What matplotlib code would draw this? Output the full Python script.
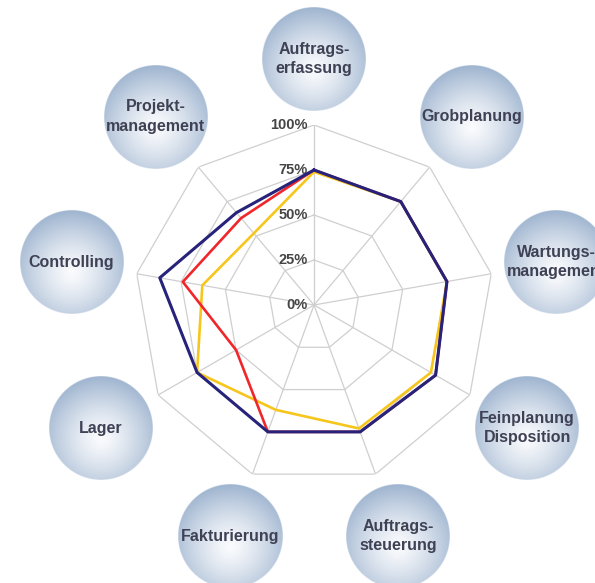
import numpy as np
import matplotlib
matplotlib.use("Agg")
import matplotlib.pyplot as plt
from matplotlib.transforms import offset_copy

# ---- data ----
categories = ["Auftrags-\nerfassung", "Grobplanung", "Wartungs-\nmanagement",
              "Feinplanung\nDisposition", "Auftrags-\nsteuerung", "Fakturierung",
              "Lager", "Controlling", "Projekt-\nmanagement"]
series_navy = [75, 75, 75, 78, 75, 75, 75, 87, 67]
series_red = [75, 75, 75, 78, 75, 75, 50, 74, 63]
series_yellow = [74, 75, 75, 75, 73, 62, 75, 63, 52]
tick_values = [0, 25, 50, 75, 100]
tick_labels = ["0%", "25%", "50%", "75%", "100%"]

plt.rcParams['font.family'] = ['Liberation Sans', 'DejaVu Sans']

W, H = 595, 583
fig = plt.figure(figsize=(W / 100, H / 100), dpi=100)
fig.patch.set_facecolor('white')
cx, cy, R = 314, H - 305, 180
ax = fig.add_axes([(cx - R) / W, (cy - R) / H, 2 * R / W, 2 * R / H],
                  projection='polar', zorder=2)
ax.set_theta_offset(np.pi / 2)
ax.set_theta_direction(-1)
ax.set_ylim(0, 100)
ax.grid(False)
ax.set_xticks([])
ax.set_yticks([])
ax.spines['polar'].set_visible(False)
ax.patch.set_alpha(0)

n = len(categories)
theta = np.arange(n) * 2 * np.pi / n
closed = np.append(theta, theta[0])

grid_c = '#cfcfcf'
for lv in tick_values[1:]:
    ax.plot(closed, [lv] * (n + 1), color=grid_c, lw=0.9, zorder=1)
for t in theta:
    ax.plot([t, t], [0, 100], color=grid_c, lw=0.9, zorder=1)

# tick labels
tr = offset_copy(ax.transData, fig=fig, x=-6, y=0, units='dots')
for v, lab in zip(tick_values, tick_labels):
    ax.text(0, v, lab, transform=tr, ha='right', va='center', fontsize=10.5,
            fontweight='bold', color='#454545', zorder=3)

# series
def close(vals):
    return list(vals) + [vals[0]]

ax.plot(closed, close(series_yellow), color='#f7c61c', lw=1.9, zorder=4)
ax.plot(closed, close(series_red), color='#f0262b', lw=1.9, zorder=5)
ax.plot(closed, close(series_navy), color='#27237a', lw=2.2, zorder=6)

# bubbles in an overlay (pixel coordinates)
ov = fig.add_axes([0, 0, 1, 1], zorder=1)
ov.set_xlim(0, W)
ov.set_ylim(0, H)
ov.axis('off')

N = 240
g = np.linspace(-1, 1, N)
X, Y = np.meshgrid(g, g)
rr = np.sqrt(X ** 2 + Y ** 2)
d = np.sqrt(X ** 2 + (Y + 0.2) ** 2) / 1.2
t = np.clip(d, 0, 1) ** 1.3
inner = np.array([250, 251, 253]) / 255.0
outer = np.array([158, 180, 207]) / 255.0
img = np.zeros((N, N, 4))
for k in range(3):
    img[..., k] = inner[k] * (1 - t) + outer[k] * t
img[..., 3] = np.clip((1 - rr) * N / 2 + 0.5, 0, 1)

br = 52
for i, cat in enumerate(categories):
    px, py = ax.transData.transform((theta[i], 136.7))
    ov.imshow(img, extent=[px - br, px + br, py - br, py + br], origin='lower',
              interpolation='bilinear', zorder=1)
    ov.text(px, py, cat, ha='center', va='center', fontsize=11.5,
            fontweight='bold', color='#3f4155', linespacing=1.35, zorder=2)

ov.set_xlim(0, W)
ov.set_ylim(0, H)
ov.set_aspect('auto')

fig.savefig('out.png', dpi=100)
